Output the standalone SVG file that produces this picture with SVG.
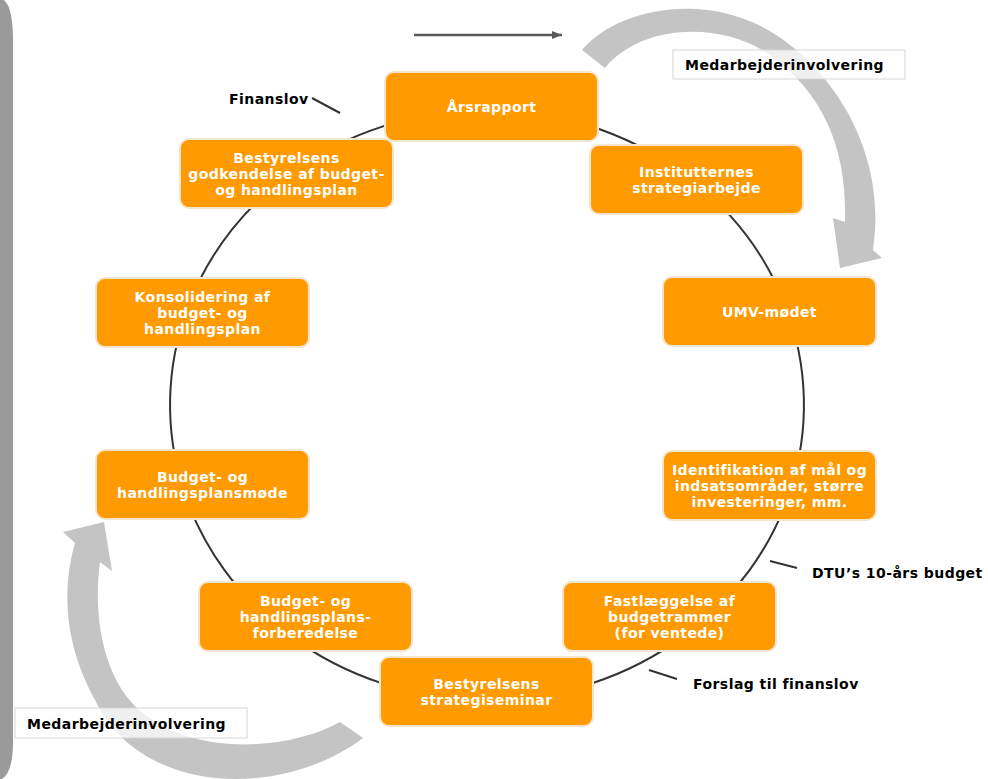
<svg xmlns="http://www.w3.org/2000/svg" width="988" height="779" viewBox="0 0 988 779">
<defs>
<style>
.node rect{fill:#ff9a00;stroke:#f6e4cc;stroke-width:2}
.node text{fill:#ffffff;font-family:"DejaVu Sans",Verdana,sans-serif;font-weight:bold;font-size:14px;letter-spacing:0.4px;text-anchor:middle}
.conn path{fill:none;stroke:#333333;stroke-width:2}
.tick{stroke:#333333;stroke-width:2;fill:none}
.lbl{fill:#000000;font-family:"DejaVu Sans",Verdana,sans-serif;font-weight:bold;font-size:14px;letter-spacing:0.45px}
.band{fill:#c4c4c4}
.mbox{fill:#ffffff;fill-opacity:0.75;stroke:#d6d6d6;stroke-width:1}
</style>
<marker id="ah" viewBox="0 0 10 8" refX="10" refY="4" markerWidth="10" markerHeight="8" markerUnits="userSpaceOnUse" orient="auto">
<path d="M0,0 L10,4 L0,8 Z" fill="#595959"/>
</marker>
</defs>
<rect width="988" height="779" fill="#ffffff"/>
<path id="sidebar" d="M0,0 L4,0 Q13,8 13,40 L13,742 Q13,772 2,779 L0,779 Z" fill="#9a9a9a"/>
<line id="toparrow" x1="414" y1="35" x2="562" y2="35" stroke="#595959" stroke-width="2.5" marker-end="url(#ah)"/>
<g id="curved-arrows">
<path class="band" d="M582,50 C620,5 720,-12 790,45 C838,82 880,150 875,230 L873,250 L882,258 L840,268 L833,218 L845,222 C847,150 825,95 770,55 C720,20 640,25 605,68 Z"/>
<path class="band" d="M363,738 C280,800 140,795 95,700 C62,640 63,585 75,543 L63,532 L104,522 L112,571 L100,562 C92,620 105,690 150,718 C200,755 290,750 340,722 Z"/>
</g>
<g id="connectors" class="conn">
<path d="M491.4,110 A317 295 0 0 1 694.4,182"/>
<path d="M694.4,182 A317 295 0 0 1 785.6,306.1"/>
<path d="M785.6,306.1 A317 295 0 0 1 790.1,491.2"/>
<path d="M790.1,491.2 A317 295 0 0 1 685.5,634.9"/>
<path d="M685.5,634.9 A317 295 0 0 1 487,700"/>
<path d="M487,700 A317 295 0 0 1 289.5,635.6"/>
<path d="M289.5,635.6 A317 295 0 0 1 183.6,490.3"/>
<path d="M183.6,490.3 A317 295 0 0 1 187.8,307.6"/>
<path d="M187.8,307.6 A317 295 0 0 1 288.2,175.2"/>
<path d="M288.2,175.2 A317 295 0 0 1 491.4,110"/>
</g>
<g id="labels">
<line class="tick" x1="312" y1="98" x2="340" y2="113"/>
<text class="lbl" x="229" y="104">Finanslov</text>
<line class="tick" x1="770" y1="561" x2="797" y2="568"/>
<text class="lbl" x="812" y="578">DTU’s 10-års budget</text>
<line class="tick" x1="649" y1="670" x2="677" y2="679"/>
<text class="lbl" x="693" y="689">Forslag til finanslov</text>
</g>
<g id="n1" class="node"><rect x="385" y="72" width="213" height="69" rx="9"/><text x="491.5" y="111.5">Årsrapport</text></g>
<g id="n2" class="node"><rect x="590" y="145" width="213" height="69" rx="9"/><text x="696.5" y="176.5">Institutternes</text><text x="696.5" y="192.5">strategiarbejde</text></g>
<g id="n3" class="node"><rect x="663" y="277" width="213" height="69" rx="9"/><text x="769.5" y="316.5">UMV-mødet</text></g>
<g id="n4" class="node"><rect x="663" y="451" width="213" height="69" rx="9"/><text x="769.5" y="474.5">Identifikation af mål og</text><text x="769.5" y="490.5">indsatsområder, større</text><text x="769.5" y="506.5">investeringer, mm.</text></g>
<g id="n5" class="node"><rect x="563" y="582" width="213" height="69" rx="9"/><text x="669.5" y="605.5">Fastlæggelse af</text><text x="669.5" y="621.5">budgetrammer</text><text x="669.5" y="637.5">(for ventede)</text></g>
<g id="n6" class="node"><rect x="380" y="657" width="213" height="69" rx="9"/><text x="486.5" y="688.5">Bestyrelsens</text><text x="486.5" y="704.5">strategiseminar</text></g>
<g id="n7" class="node"><rect x="199" y="582" width="213" height="69" rx="9"/><text x="305.5" y="605.5">Budget- og</text><text x="305.5" y="621.5">handlingsplans-</text><text x="305.5" y="637.5">forberedelse</text></g>
<g id="n8" class="node"><rect x="96" y="450" width="213" height="69" rx="9"/><text x="202.5" y="481.5">Budget- og</text><text x="202.5" y="497.5">handlingsplansmøde</text></g>
<g id="n9" class="node"><rect x="96" y="278" width="213" height="69" rx="9"/><text x="202.5" y="301.5">Konsolidering af</text><text x="202.5" y="317.5">budget- og</text><text x="202.5" y="333.5">handlingsplan</text></g>
<g id="n10" class="node"><rect x="180" y="139" width="213" height="69" rx="9"/><text x="286.5" y="162.5">Bestyrelsens</text><text x="286.5" y="178.5">godkendelse af budget-</text><text x="286.5" y="194.5">og handlingsplan</text></g>
<g id="m1"><rect class="mbox" x="673" y="50" width="232" height="29"/><text class="lbl" x="685" y="70">Medarbejderinvolvering</text></g>
<g id="m2"><rect class="mbox" x="15" y="708" width="232" height="30"/><text class="lbl" x="27" y="729">Medarbejderinvolvering</text></g>
</svg>
